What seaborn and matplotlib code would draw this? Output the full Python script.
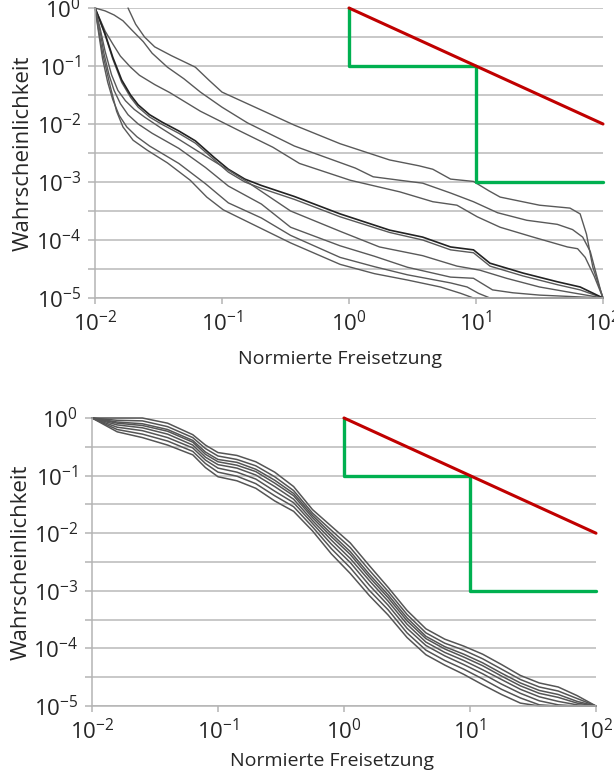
import numpy as np
import pandas as pd
import matplotlib
matplotlib.use("Agg")
import matplotlib.pyplot as plt
from matplotlib.ticker import FixedLocator, FuncFormatter, NullFormatter
import seaborn as sns

# ---------------- data (log10 exponents) ----------------
# upper panel: 9 curves
top_A_x = [-1.74, -1.68, -1.61, -1.53, -1.40, -1.21, -1.10, -1.0, -0.85, -0.69, -0.43, -0.07, 0.32, 0.55, 0.66, 0.80, 0.98, 1.10, 1.19, 1.50, 1.74, 1.82, 1.87, 1.92, 2.0]
top_A_y = [0, -0.28, -0.5, -0.67, -0.82, -1.02, -1.25, -1.45, -1.60, -1.76, -2.02, -2.34, -2.62, -2.72, -2.78, -2.95, -2.99, -3.15, -3.26, -3.40, -3.45, -3.55, -3.90, -4.47, -5.0]

top_B_x = [-2, -1.92, -1.85, -1.78, -1.71, -1.62, -1.55, -1.43, -1.30, -1.17, -1.0, -0.80, -0.43, 0.05, 0.19, 0.40, 0.58, 0.80, 0.98, 1.17, 1.40, 1.64, 1.76, 1.84, 1.90, 1.98, 2.0]
top_B_y = [0, -0.05, -0.12, -0.22, -0.38, -0.58, -0.78, -1.02, -1.22, -1.45, -1.71, -1.98, -2.38, -2.76, -2.91, -2.97, -3.02, -3.19, -3.34, -3.53, -3.66, -3.73, -3.82, -3.95, -4.2, -4.86, -5.0]

top_C_x = [-2, -1.96, -1.92, -1.86, -1.80, -1.72, -1.65, -1.53, -1.41, -1.17, -0.86, -0.60, -0.39, 0.01, 0.40, 0.66, 0.85, 1.01, 1.19, 1.45, 1.72, 1.80, 1.86, 1.93, 2.0]
top_C_y = [0, -0.2, -0.4, -0.62, -0.83, -1.02, -1.16, -1.32, -1.46, -1.78, -2.12, -2.40, -2.68, -2.97, -3.17, -3.34, -3.40, -3.60, -3.78, -3.95, -4.12, -4.15, -4.3, -4.62, -5.0]

top_D_x = [-2, -1.96, -1.92, -1.86, -1.79, -1.72, -1.66, -1.57, -1.47, -1.34, -1.21, -1.06, -0.95, -0.82, -0.69, -0.43, -0.07, 0.32, 0.58, 0.80, 0.98, 1.11, 1.37, 1.64, 1.82, 2.0]
top_D1_y = [0, -0.22, -0.45, -0.85, -1.24, -1.50, -1.67, -1.84, -1.97, -2.12, -2.29, -2.58, -2.78, -2.95, -3.06, -3.25, -3.55, -3.83, -3.95, -4.12, -4.17, -4.40, -4.57, -4.72, -4.81, -5.0]
top_D2_y = [0, -0.23, -0.47, -0.88, -1.28, -1.54, -1.71, -1.88, -2.01, -2.16, -2.33, -2.62, -2.83, -3.0, -3.11, -3.30, -3.60, -3.87, -4.00, -4.17, -4.22, -4.45, -4.62, -4.77, -4.86, -5.0]

top_E_x = [-2, -1.96, -1.92, -1.87, -1.82, -1.76, -1.69, -1.61, -1.48, -1.35, -1.08, -0.82, -0.46, -0.07, 0.24, 0.58, 0.85, 1.03, 1.24, 1.50, 1.76, 2.0]
top_E_y = [0, -0.35, -0.75, -1.15, -1.42, -1.60, -1.75, -1.88, -2.07, -2.25, -2.62, -2.97, -3.50, -3.85, -4.12, -4.27, -4.45, -4.52, -4.66, -4.81, -4.91, -5.0]

top_F_x = [-2, -1.96, -1.93, -1.89, -1.85, -1.80, -1.74, -1.66, -1.55, -1.34, -1.13, -0.95, -0.69, -0.46, -0.07, 0.20, 0.46, 0.80, 0.98, 1.13, 1.29, 1.50, 2.0]
top_F_y = [0, -0.40, -0.78, -1.15, -1.42, -1.65, -1.84, -2.0, -2.16, -2.42, -2.75, -3.07, -3.38, -3.78, -4.10, -4.28, -4.47, -4.64, -4.66, -4.86, -4.91, -4.95, -5.0]

top_G_x = [-2, -1.97, -1.94, -1.90, -1.86, -1.81, -1.75, -1.67, -1.57, -1.34, -1.13, -0.95, -0.69, -0.46, -0.07, 0.20, 0.46, 0.80, 0.93, 1.02, 1.11, 2.0]
top_G_y = [0, -0.45, -0.88, -1.28, -1.58, -1.85, -2.05, -2.22, -2.38, -2.68, -3.03, -3.36, -3.62, -3.92, -4.30, -4.46, -4.60, -4.74, -4.81, -4.92, -5.0, -5.0]

top_H_x = [-2, -1.97, -1.94, -1.88, -1.83, -1.78, -1.70, -1.59, -1.43, -1.25, -1.12, -0.99, -0.86, -0.46, -0.07, 0.20, 0.46, 0.72, 0.88, 0.98, 2.0]
top_H_y = [0, -0.40, -0.78, -1.35, -1.78, -2.05, -2.28, -2.45, -2.67, -2.97, -3.26, -3.48, -3.62, -4.05, -4.42, -4.58, -4.69, -4.81, -4.92, -5.0, -5.0]

# lower panel: 8 curves on a common grid
bot_x = [-2.0, -1.8, -1.6, -1.4, -1.2, -1.1, -1.0, -0.85, -0.7, -0.55, -0.4, -0.25, -0.1, 0.05,
         0.2, 0.35, 0.5, 0.65, 0.8, 0.95, 1.1, 1.25, 1.4, 1.55, 1.7, 1.85, 2.0]
bot_1 = [0, 0, 0, -0.09, -0.29, -0.47, -0.60, -0.65, -0.76, -0.94, -1.19, -1.59, -1.88, -2.17,
         -2.56, -2.94, -3.34, -3.66, -3.84, -3.96, -4.10, -4.28, -4.47, -4.60, -4.67, -4.82, -5.0]
bot_2 = [0, -0.04, -0.05, -0.15, -0.34, -0.53, -0.66, -0.72, -0.83, -1.02, -1.26, -1.65, -1.95, -2.25,
         -2.64, -3.01, -3.41, -3.73, -3.91, -4.03, -4.18, -4.36, -4.54, -4.67, -4.74, -4.87, -5.0]
bot_3 = [0, -0.07, -0.10, -0.20, -0.39, -0.59, -0.72, -0.77, -0.89, -1.08, -1.31, -1.69, -2.01, -2.32,
         -2.71, -3.07, -3.47, -3.79, -3.97, -4.10, -4.25, -4.43, -4.60, -4.73, -4.80, -4.92, -5.0]
bot_4 = [0, -0.09, -0.13, -0.23, -0.42, -0.63, -0.76, -0.82, -0.93, -1.13, -1.35, -1.73, -2.06, -2.37,
         -2.76, -3.12, -3.52, -3.83, -4.01, -4.15, -4.30, -4.48, -4.65, -4.78, -4.85, -4.95, -5.0]
bot_5 = [0, -0.12, -0.17, -0.28, -0.47, -0.68, -0.81, -0.87, -0.99, -1.19, -1.41, -1.78, -2.12, -2.44,
         -2.82, -3.18, -3.58, -3.89, -4.07, -4.21, -4.37, -4.54, -4.71, -4.84, -4.92, -4.98, -5.0]
bot_6 = [0, -0.16, -0.22, -0.34, -0.52, -0.73, -0.87, -0.94, -1.06, -1.27, -1.47, -1.83, -2.19, -2.51,
         -2.90, -3.25, -3.65, -3.95, -4.13, -4.28, -4.44, -4.62, -4.78, -4.91, -4.98, -5.0, -5.0]
bot_7 = [0, -0.20, -0.28, -0.40, -0.58, -0.79, -0.94, -1.01, -1.14, -1.35, -1.54, -1.89, -2.27, -2.60,
         -2.99, -3.33, -3.73, -4.03, -4.21, -4.36, -4.53, -4.71, -4.86, -4.98, -5.0, -5.0, -5.0]
bot_8 = [0, -0.24, -0.34, -0.47, -0.64, -0.86, -1.02, -1.09, -1.22, -1.44, -1.62, -1.96, -2.36, -2.70,
         -3.08, -3.42, -3.81, -4.11, -4.29, -4.45, -4.63, -4.80, -4.95, -5.0, -5.0, -5.0, -5.0]

# reference limits (red) and steps (green)
red_x = [1, 100]
red_y = [1, 0.01]
green_x = [1, 1, 10, 10, 100]
green_y = [1, 0.1, 0.1, 0.001, 0.001]

xlabel = "Normierte Freisetzung"
ylabel = "Wahrscheinlichkeit"
x_ticks = [1e-2, 1e-1, 1e0, 1e1, 1e2]
y_ticks = [1e-5, 1e-4, 1e-3, 1e-2, 1e-1, 1e0]
y_minor = [10 ** -4.5, 10 ** -3.5, 10 ** -2.5, 10 ** -1.5, 10 ** -0.5]

# ---------------- style ----------------
sns.set_theme(style="white")
plt.rcParams["font.family"] = ["Open Sans", "DejaVu Sans"]
plt.rcParams["mathtext.fontset"] = "custom"
plt.rcParams["mathtext.rm"] = "Open Sans"
plt.rcParams["mathtext.it"] = "Open Sans:italic"
plt.rcParams["mathtext.bf"] = "Open Sans:bold"

W, H = 614, 772
fig = plt.figure(figsize=(W / 100, H / 100), dpi=100)
ax_top = fig.add_axes([95 / W, 1 - 298 / H, 508 / W, 290 / H])
ax_bot = fig.add_axes([92 / W, 1 - 706 / H, 504 / W, 288 / H])

grid_col = "#c4c4c4"
spine_col = "#b4b4b4"
txt_col = "#262626"


def fmt(v, pos):
    e = int(round(np.log10(v)))
    return r"$\mathregular{10^{%d}}$" % e


def style_axis(ax):
    ax.set_xscale("log")
    ax.set_yscale("log")
    ax.set_xlim(1e-2, 1e2)
    ax.set_ylim(1e-5, 1)
    ax.xaxis.set_major_locator(FixedLocator(x_ticks))
    ax.xaxis.set_minor_locator(FixedLocator([]))
    ax.yaxis.set_major_locator(FixedLocator(y_ticks))
    ax.yaxis.set_minor_locator(FixedLocator(y_minor))
    ax.xaxis.set_major_formatter(FuncFormatter(fmt))
    ax.yaxis.set_major_formatter(FuncFormatter(fmt))
    ax.xaxis.set_minor_formatter(NullFormatter())
    ax.yaxis.set_minor_formatter(NullFormatter())
    ax.grid(False)
    ax.yaxis.grid(True, which="both", color=grid_col, lw=1.3)
    ax.set_axisbelow(True)
    for s in ["top", "right"]:
        ax.spines[s].set_visible(False)
    for s in ["left", "bottom"]:
        ax.spines[s].set_color(spine_col)
        ax.spines[s].set_linewidth(1.1)
    ax.tick_params(axis="y", which="both", direction="out", length=5, width=1.1,
                   color=spine_col, left=True, pad=5, labelsize=16, labelcolor=txt_col)
    ax.tick_params(axis="x", which="major", direction="out", length=4, width=1.1,
                   color=spine_col, bottom=True, pad=5, labelsize=16, labelcolor=txt_col)
    ax.set_ylabel(ylabel, fontsize=16, color=txt_col)
    ax.yaxis.set_label_coords(-0.12, 0.5)


def draw(ax, lx, ly, color, lw):
    d = pd.DataFrame({"x": np.power(10.0, lx), "y": np.power(10.0, ly)})
    sns.lineplot(data=d, x="x", y="y", ax=ax, color=color, lw=lw, sort=False,
                 estimator=None, clip_on=False)


def refs(ax):
    sns.lineplot(x=green_x, y=green_y, ax=ax, color="#00b050", lw=2.4, sort=False,
                 estimator=None, clip_on=False)
    sns.lineplot(x=red_x, y=red_y, ax=ax, color="#c00000", lw=2.2, sort=False,
                 estimator=None, clip_on=False)


# upper panel
top_curves = [
    (top_A_x, top_A_y, "#595959", 1.0),
    (top_B_x, top_B_y, "#595959", 1.0),
    (top_C_x, top_C_y, "#595959", 1.0),
    (top_D_x, top_D2_y, "#595959", 1.0),
    (top_D_x, top_D1_y, "#222222", 1.2),
    (top_E_x, top_E_y, "#595959", 1.0),
    (top_F_x, top_F_y, "#595959", 1.0),
    (top_G_x, top_G_y, "#595959", 1.0),
    (top_H_x, top_H_y, "#595959", 1.0),
]
for lx, ly, c, lw in top_curves:
    draw(ax_top, lx, ly, c, lw)
refs(ax_top)
style_axis(ax_top)
ax_top.set_xlabel(xlabel, fontsize=14, color=txt_col)
ax_top.xaxis.set_label_coords((340 - 95) / 508, -0.18)

# lower panel
bot_curves = [bot_1, bot_2, bot_3, bot_4, bot_5, bot_6, bot_7, bot_8]
for ly in bot_curves:
    draw(ax_bot, bot_x, ly, "#555555", 1.1)
refs(ax_bot)
style_axis(ax_bot)
ax_bot.set_xlabel(xlabel, fontsize=14, color=txt_col)
ax_bot.xaxis.set_label_coords((332 - 92) / 504, -0.16)

fig.savefig("out.png", dpi=100)
